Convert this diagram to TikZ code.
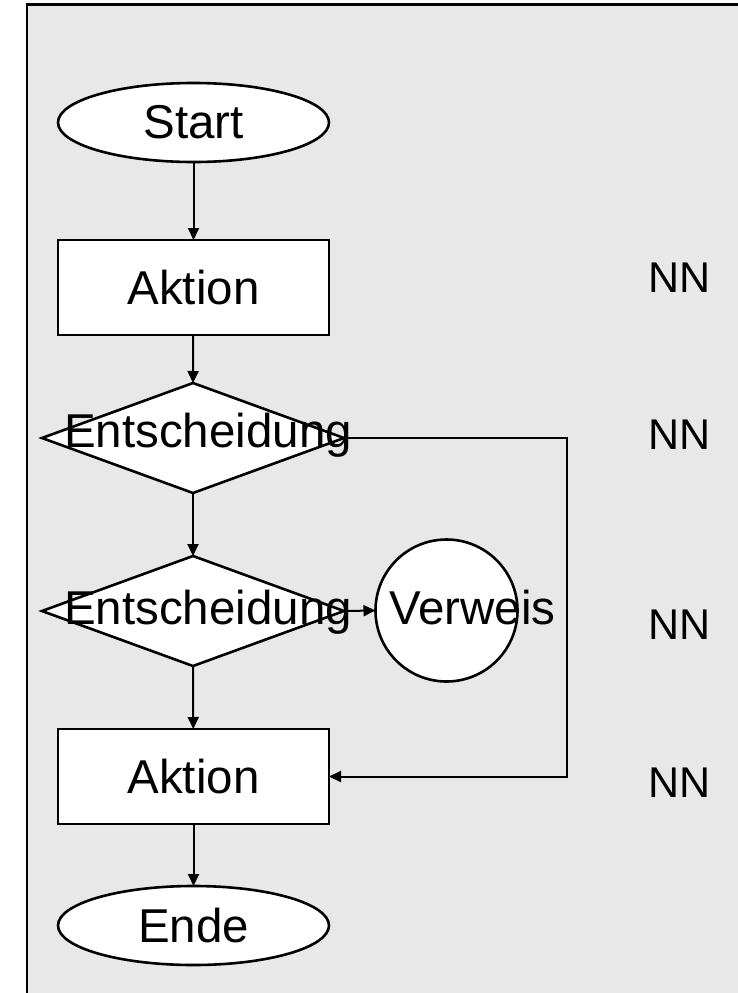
\documentclass[tikz,border=0pt]{standalone}
\usepackage{fontspec}
\setmainfont{Liberation Sans}
\usetikzlibrary{shapes.geometric,arrows.meta}
\definecolor{panelgray}{RGB}{232,232,232}
\begin{document}
\begin{tikzpicture}[x=1pt,y=-1pt,
  shapeline/.style={draw=black,line width=2.6pt,fill=white,inner sep=0pt,outer sep=0pt},
  terminal/.style={shapeline,ellipse,minimum width=271pt,minimum height=79pt,font=\fontsize{47.5}{56}\selectfont},
  actionbox/.style={shapeline,rectangle,minimum width=271pt,minimum height=95pt,font=\fontsize{47.5}{56}\selectfont},
  decision/.style={shapeline,diamond,minimum width=302pt,minimum height=110pt},
  refcircle/.style={shapeline,circle,minimum size=142pt},
  bigtext/.style={inner sep=0pt,anchor=base west,font=\fontsize{47.5}{56}\selectfont},
  nntext/.style={inner sep=0pt,anchor=base west,font=\fontsize{43}{50}\selectfont},
  arr/.style={draw=black,line width=2pt,-{Triangle[length=12pt,width=11pt]}},
  conn/.style={draw=black,line width=2pt}]
\useasboundingbox (0,0) rectangle (738,993);
\draw[line width=2.7pt,fill=panelgray] (27,4.7) rectangle (780,1040);

\node[terminal] (start) at (193.5,122.5) {Start};
\node[actionbox] (akt1) at (193.5,287.5) {Aktion};
\node[decision] (d1) at (193,438) {};
\node[decision] (d2) at (193,611) {};
\node[refcircle] (ref) at (446.5,610.5) {};
\node[actionbox] (akt2) at (193.5,776.5) {Aktion};
\node[terminal] (ende) at (193.5,925.5) {Ende};
\coordinate (loop) at (567,438);

\draw[arr] (start) -- (akt1);
\draw[arr] (akt1) -- (d1.north);
\draw[arr] (d1.south) -- (d2.north);
\draw[arr] (d2.south) -- (akt2);
\draw[arr] (akt2) -- (ende);
\draw[arr] (d2.east) -- (ref.west);
\draw[arr] (d1.east) -- (loop) |- (akt2.east);

\node[bigtext] (t1) at (64,447.5) {Entscheidung};
\node[bigtext] (t2) at (64,624) {Entscheidung};
\node[bigtext] (t3) at (389,624) {Verweis};

\node[nntext] (nn1) at (648,292) {NN};
\node[nntext] (nn2) at (648,449) {NN};
\node[nntext] (nn3) at (648,639) {NN};
\node[nntext] (nn4) at (648,797) {NN};
\end{tikzpicture}
\end{document}
